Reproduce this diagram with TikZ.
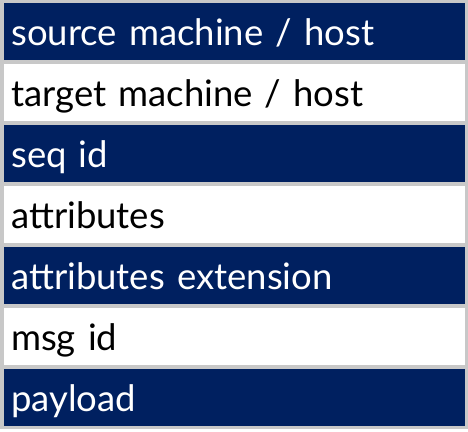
\documentclass[tikz,border=0pt]{standalone}
\usepackage{fontspec}
\setmainfont{Lato}
\definecolor{navy}{HTML}{002060}
\definecolor{framegray}{HTML}{C8C8C8}
\begin{document}
\begin{tikzpicture}[x=1pt,y=-1pt,
  row/.style={rectangle, anchor=north west, minimum width=461pt, minimum height=57pt,
    inner ysep=0pt, inner xsep=7pt, text height=42pt, text depth=15pt,
    text width=447pt, align=left, font=\fontsize{36.5}{40}\selectfont},
  darkrow/.style={row, fill=navy, text=white},
  lightrow/.style={row, fill=white, text=black}]
\useasboundingbox (0,0) rectangle (468,431);
\fill[framegray] (0,0) rectangle (468,429);
\node[darkrow]  (r1) at (4,3)   {source machine / host};
\node[lightrow] (r2) at (4,64)  {target machine / host};
\node[darkrow]  (r3) at (4,125) {seq id};
\node[lightrow] (r4) at (4,186) {attributes};
\node[darkrow]  (r5) at (4,247) {attributes extension};
\node[lightrow] (r6) at (4,308) {msg id};
\node[darkrow]  (r7) at (4,369) {payload};
\end{tikzpicture}
\end{document}
